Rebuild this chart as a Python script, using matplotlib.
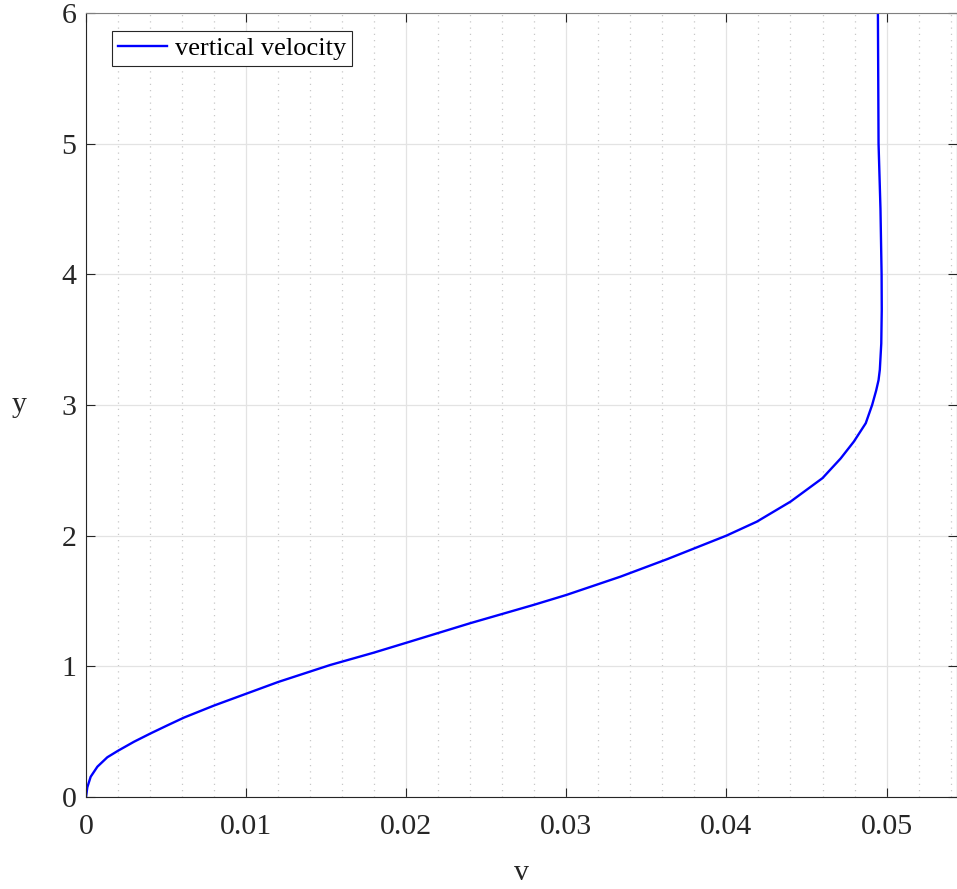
import numpy as np
import matplotlib.pyplot as plt
from matplotlib.ticker import MultipleLocator

# velocity profile
v_vals = [0.0, 0.00008, 0.00029, 0.00071, 0.00133, 0.002, 0.003, 0.00404,
          0.00508, 0.006125, 0.008, 0.01, 0.012, 0.014, 0.01525, 0.01796,
          0.02, 0.024, 0.02796, 0.03, 0.03338, 0.0363, 0.04, 0.0419, 0.044,
          0.046, 0.04713, 0.04796, 0.0487, 0.0491, 0.04935, 0.0495, 0.04958,
          0.04967, 0.0497, 0.04969, 0.04962, 0.0495, 0.04946]
y_vals = [0.0, 0.074, 0.155, 0.232, 0.304, 0.354, 0.423, 0.487,
          0.548, 0.608, 0.70, 0.79, 0.88, 0.96, 1.01, 1.104,
          1.18, 1.33, 1.47, 1.546, 1.686, 1.82, 2.0, 2.107, 2.26,
          2.44, 2.59, 2.72, 2.86, 3.0, 3.11, 3.19, 3.27, 3.47,
          3.73, 4.0, 4.5, 5.0, 6.0]

x_ticks = [0, 0.01, 0.02, 0.03, 0.04, 0.05]
x_labels = ['0', '0.01', '0.02', '0.03', '0.04', '0.05']
y_ticks = [0, 1, 2, 3, 4, 5, 6]

dark = '#262626'
plt.rcParams['font.family'] = ['Liberation Serif', 'DejaVu Serif']

fig = plt.figure(figsize=(9.57, 8.89), dpi=100)
ax = fig.add_axes([0.0899, 0.1035, 0.9101, 0.882])

ax.plot(v_vals, y_vals, color='#0000ff', lw=1.7, label='vertical velocity',
        solid_joinstyle='round')

ax.set_xlim(0, 0.0544)
ax.set_ylim(0, 6)
ax.set_xticks(x_ticks)
ax.set_xticklabels(x_labels)
ax.set_yticks(y_ticks)
ax.xaxis.set_minor_locator(MultipleLocator(0.002))

ax.grid(True, which='major', color='#e3e3e3', lw=0.9)
ax.grid(True, which='minor', axis='x', color='#c8c8c8', lw=0.9,
        linestyle=(0, (1, 4)))
ax.set_axisbelow(True)

ax.tick_params(axis='x', which='major', pad=12)
ax.tick_params(axis='y', which='major', pad=7)
ax.tick_params(which='major', direction='in', length=6.5, width=0.8,
               colors=dark, top=True, right=True, labelsize=21.5)
ax.tick_params(which='minor', length=0, top=True, right=True)
for s in ax.spines.values():
    s.set_color(dark)
    s.set_linewidth(0.8)
ax.spines['top'].set_color('#808080')

ax.set_xlabel('v', fontsize=21.5, color=dark, labelpad=15)
ax.set_ylabel('y', fontsize=21.5, color=dark, rotation=0, labelpad=30, va='center')

leg = ax.legend(loc='upper left', fontsize=19, fancybox=False, framealpha=1,
                edgecolor=dark, borderpad=0.22, borderaxespad=0,
                handlelength=1.85, handletextpad=0.3,
                bbox_to_anchor=(0.0298, 0.977))
leg.get_frame().set_linewidth(0.8)
for t in leg.get_texts():
    t.set_color('black')

fig.savefig('out.png', dpi=100)
